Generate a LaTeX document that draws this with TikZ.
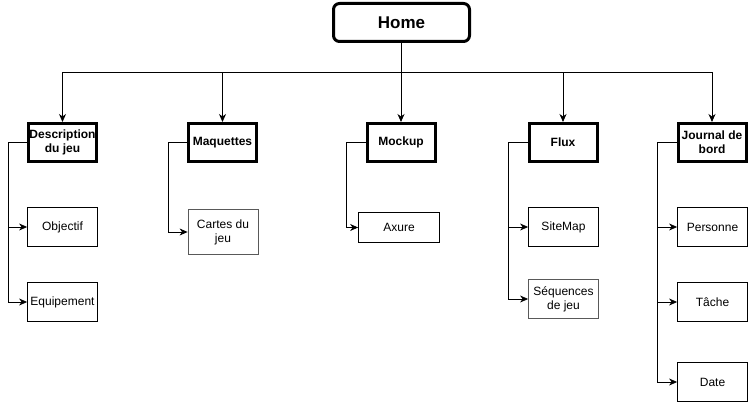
\documentclass[tikz,border=0pt]{standalone}
\usepackage{fontspec}
\setmainfont{Liberation Sans}
\usetikzlibrary{arrows.meta,positioning,calc}

\tikzset{
  homebox/.style={draw,line width=3pt,rounded corners=6pt,minimum width=136pt,minimum height=38pt,inner sep=0pt,font=\fontsize{17}{19}\selectfont\bfseries},
  bigbox/.style={draw,line width=3pt,minimum width=68pt,minimum height=38pt,inner sep=0pt,align=center,font=\fontsize{12}{14}\selectfont\bfseries},
  box/.style={draw,line width=0.8pt,minimum width=70pt,minimum height=39pt,inner sep=0pt,align=center,font=\fontsize{12}{14}\selectfont},
  greybox/.style={box,draw=black!65},
  link/.style={line width=0.8pt,-{Stealth[length=8pt,width=7pt,inset=2.5pt]}},
}

\begin{document}
\begin{tikzpicture}[x=1pt,y=-1pt]
  \useasboundingbox (0,0) rectangle (749,403);
  \node [homebox] (home) at (401.5,22.5) {Home};
  \coordinate (bus) at (0,72);

  \node [bigbox] (desc) at (62.5,142.5) {Description\\du jeu};
  \node [bigbox] (maq)  at (222.5,142.5) {Maquettes};
  \node [bigbox] (mock) at (401,142.5) {Mockup};
  \node [bigbox] (flux) at (563,142.5) {Flux};
  \node [bigbox] (jour) at (712,142.5) {Journal de\\bord};

  \node [box] (obj)   at (62.5,227) {Objectif};
  \node [box] (equip) at (62.5,302) {Equipement};
  \node [greybox,minimum height=45pt] (cartes) at (223,232) {Cartes du\\jeu};
  \node [box,minimum width=81pt,minimum height=30pt] (axure) at (399,227.5) {Axure};
  \node [box] (site) at (563.5,227) {SiteMap};
  \node [greybox] (seq) at (563.5,299) {Séquences\\de jeu};
  \node [box] (pers)  at (712.5,227) {Personne};
  \node [box] (tache) at (712.5,302) {Tâche};
  \node [box] (date)  at (712.5,382) {Date};

  \foreach \n in {desc,maq,mock,flux,jour}
    \draw [link] (home.south) -- (home.south |- bus) -| (\n.north);

  \draw [link] (desc.west) -- ++(-19,0) |- (obj.west);
  \draw [link] (desc.west) -- ++(-19,0) |- (equip.west);
  \draw [link] (maq.west) -- ++(-19,0) |- (cartes.west);
  \draw [link] (mock.west) -- ++(-19,0) |- (axure.west);
  \draw [link] (flux.west) -- ++(-19,0) |- (site.west);
  \draw [link] (flux.west) -- ++(-19,0) |- (seq.west);
  \draw [link] (jour.west) -- ++(-19,0) |- (pers.west);
  \draw [link] (jour.west) -- ++(-19,0) |- (tache.west);
  \draw [link] (jour.west) -- ++(-19,0) |- (date.west);
\end{tikzpicture}
\end{document}
